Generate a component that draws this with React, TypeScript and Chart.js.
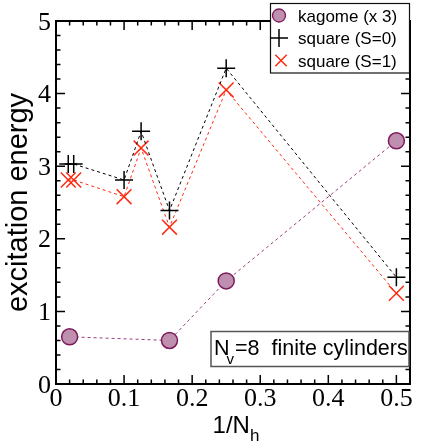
import React, { useEffect, useRef } from "react";
import { Chart, registerables } from "chart.js";

Chart.register(...registerables);

// ---- data ----
const kagomeX = [0.02, 0.1667, 0.25, 0.5];
const kagomeY = [0.65, 0.6, 1.42, 3.35];
const squareX = [0.018, 0.026, 0.1, 0.125, 0.1667, 0.25, 0.5];
const squareS0 = [3.03, 3.03, 2.81, 3.48, 2.39, 4.35, 1.47];
const squareS1 = [2.81, 2.81, 2.58, 3.25, 2.16, 4.05, 1.25];
const xTicks = [0, 0.1, 0.2, 0.3, 0.4, 0.5];
const yTicks = [0, 1, 2, 3, 4, 5];
const legendLabels = ["kagome (x 3)", "square (S=0)", "square (S=1)"];
const yTitle = "excitation energy";
const xTitleMain = "1/N";
const xTitleSub = "h";
const noteMain = "N";
const noteSub = "v";
const noteRest = "=8  finite cylinders";

const X_MIN = 0;
const X_MAX = 0.52;
const Y_MIN = 0;
const Y_MAX = 5;
const X_MINOR = 0.02;
const Y_MINOR = 0.2;

const KAGOME_LINE = "#9a3c80";
const KAGOME_FILL = "#bf8fb0";
const KAGOME_EDGE = "#7d1a5c";
const RED = "#ff2a10";
const SANS = '"Liberation Sans", Arial, Helvetica, sans-serif';
const SERIF = '"Liberation Serif", "Times New Roman", serif';

// warm up the serif font as early as possible
try {
  const c = document.createElement("canvas");
  const cx = c.getContext("2d");
  if (cx) {
    cx.font = `26px ${SERIF}`;
    cx.fillText("0.12345", 0, 20);
    cx.font = `26px ${SANS}`;
    cx.fillText("0.12345", 0, 20);
  }
} catch (e) {}

const toPts = (xs: number[], ys: number[]) => xs.map((x, i) => ({ x, y: ys[i] }));

const decorPlugin = {
  id: "decor",
  afterDraw(chart: any) {
    const { ctx, chartArea } = chart;
    const xs = chart.scales.x;
    const ys = chart.scales.y;
    const { left, right, top, bottom } = chartArea;
    ctx.save();

    // inward ticks on all four sides
    ctx.strokeStyle = "#000";
    ctx.lineWidth = 1.5;
    const majorLen = 9;
    const minorLen = 4.5;
    const isMajor = (v: number, arr: number[]) => arr.some((t) => Math.abs(t - v) < 1e-6);
    ctx.beginPath();
    for (let v = X_MIN; v <= X_MAX + 1e-9; v += X_MINOR) {
      const vv = Math.round(v * 1000) / 1000;
      const px = xs.getPixelForValue(vv);
      const len = isMajor(vv, xTicks) ? majorLen : minorLen;
      ctx.moveTo(px, bottom);
      ctx.lineTo(px, bottom - len);
      ctx.moveTo(px, top);
      ctx.lineTo(px, top + len);
    }
    for (let v = Y_MIN; v <= Y_MAX + 1e-9; v += Y_MINOR) {
      const vv = Math.round(v * 1000) / 1000;
      const py = ys.getPixelForValue(vv);
      const len = isMajor(vv, yTicks) ? majorLen : minorLen;
      ctx.moveTo(left, py);
      ctx.lineTo(left + len, py);
      ctx.moveTo(right, py);
      ctx.lineTo(right - len, py);
    }
    ctx.stroke();

    // frame
    ctx.lineWidth = 2;
    ctx.strokeRect(left, top, right - left, bottom - top);

    // tick labels (serif), placed through the scales
    ctx.fillStyle = "#000";
    ctx.font = `26px ${SERIF}`;
    ctx.textBaseline = "alphabetic";
    ctx.textAlign = "right";
    yTicks.forEach((v) => {
      ctx.fillText(String(v), left - 5, ys.getPixelForValue(v) + 8.6);
    });
    ctx.textAlign = "center";
    xTicks.forEach((v) => {
      ctx.fillText(String(v), xs.getPixelForValue(v), bottom + 22);
    });

    // y title
    ctx.save();
    ctx.translate(27, (top + bottom) / 2);
    ctx.rotate(-Math.PI / 2);
    ctx.font = `29px ${SANS}`;
    ctx.textAlign = "center";
    ctx.textBaseline = "alphabetic";
    ctx.fillText(yTitle, 0, 0);
    ctx.restore();

    // x title with subscript
    ctx.textAlign = "left";
    ctx.textBaseline = "alphabetic";
    ctx.font = `24px ${SANS}`;
    const wMain = ctx.measureText(xTitleMain).width;
    ctx.font = `17px ${SANS}`;
    const wSub = ctx.measureText(xTitleSub).width;
    const xStart = 236 - (wMain + wSub) / 2;
    ctx.font = `24px ${SANS}`;
    ctx.fillText(xTitleMain, xStart, 433);
    ctx.font = `17px ${SANS}`;
    ctx.fillText(xTitleSub, xStart + wMain, 441);

    // annotation box
    ctx.fillStyle = "#fff";
    ctx.fillRect(211, 331.5, 198, 35);
    ctx.strokeStyle = "#555";
    ctx.lineWidth = 1.5;
    ctx.strokeRect(211, 331.5, 198, 35);
    ctx.fillStyle = "#000";
    ctx.font = `21.5px ${SANS}`;
    let tx = 214;
    ctx.fillText(noteMain, tx, 355);
    tx += ctx.measureText(noteMain).width - 3;
    ctx.font = `15px ${SANS}`;
    ctx.fillText(noteSub, tx, 364);
    tx += ctx.measureText(noteSub).width + 1;
    ctx.font = `21.5px ${SANS}`;
    ctx.fillText(noteRest, tx, 355);

    // legend
    ctx.fillStyle = "#fff";
    ctx.fillRect(270.5, 3.5, 139, 69.5);
    ctx.strokeStyle = "#111";
    ctx.lineWidth = 1.2;
    ctx.strokeRect(270.5, 3.5, 139, 69.5);
    const rowsY = [15.5, 38, 60.5];
    const mx = 279;
    ctx.beginPath();
    ctx.arc(mx, rowsY[0], 6.5, 0, Math.PI * 2);
    ctx.fillStyle = KAGOME_FILL;
    ctx.fill();
    ctx.strokeStyle = KAGOME_EDGE;
    ctx.lineWidth = 1.3;
    ctx.stroke();
    ctx.strokeStyle = "#000";
    ctx.lineWidth = 1.5;
    ctx.beginPath();
    ctx.moveTo(mx - 9, rowsY[1]);
    ctx.lineTo(mx + 9, rowsY[1]);
    ctx.moveTo(mx, rowsY[1] - 9);
    ctx.lineTo(mx, rowsY[1] + 9);
    ctx.stroke();
    ctx.strokeStyle = RED;
    ctx.beginPath();
    const d = 5.7;
    ctx.moveTo(mx - d + 2, rowsY[2] - d);
    ctx.lineTo(mx + d + 2, rowsY[2] + d);
    ctx.moveTo(mx - d + 2, rowsY[2] + d);
    ctx.lineTo(mx + d + 2, rowsY[2] - d);
    ctx.stroke();
    ctx.fillStyle = "#000";
    ctx.font = `17px ${SANS}`;
    ctx.textBaseline = "alphabetic";
    legendLabels.forEach((lab, i) => {
      ctx.fillText(lab, 298, rowsY[i] + 6.2);
    });

    ctx.restore();
  },
};

export default function App() {
  const ref = useRef<HTMLCanvasElement | null>(null);
  useEffect(() => {
    if (!ref.current) return;
    const chart = new Chart(ref.current, {
      type: "scatter",
      data: {
        datasets: [
          {
            label: legendLabels[0],
            data: toPts(kagomeX, kagomeY),
            showLine: true,
            borderColor: KAGOME_LINE,
            borderWidth: 1,
            borderDash: [3, 3],
            pointStyle: "circle",
            pointRadius: 8,
            pointHoverRadius: 8,
            pointBackgroundColor: KAGOME_FILL,
            pointBorderColor: KAGOME_EDGE,
            pointBorderWidth: 1.5,
          },
          {
            label: legendLabels[1],
            data: toPts(squareX, squareS0),
            showLine: true,
            borderColor: "#000",
            borderWidth: 1,
            borderDash: [3, 3],
            pointStyle: "cross",
            pointRadius: 9,
            pointHoverRadius: 9,
            pointBorderColor: "#000",
            pointBorderWidth: 1.5,
          },
          {
            label: legendLabels[2],
            data: toPts(squareX, squareS1),
            showLine: true,
            borderColor: RED,
            borderWidth: 1,
            borderDash: [3, 3],
            pointStyle: "crossRot",
            pointRadius: 10.5,
            pointHoverRadius: 10.5,
            pointBorderColor: RED,
            pointBorderWidth: 1.5,
          },
        ],
      },
      options: {
        animation: false,
        responsive: false,
        devicePixelRatio: 1,
        layout: { padding: { top: 21, right: 4, bottom: 0, left: 0 } },
        plugins: {
          legend: { display: false },
          tooltip: { enabled: false },
          title: { display: false },
        },
        scales: {
          x: {
            type: "linear",
            min: X_MIN,
            max: X_MAX,
            afterBuildTicks: (s: any) => {
              s.ticks = xTicks.map((v) => ({ value: v }));
            },
            afterFit: (s: any) => {
              s.height = 63;
              s.paddingLeft = 0;
              s.paddingRight = 0;
            },
            ticks: { display: false },
            grid: { display: false, drawTicks: false },
            border: { display: false },
          },
          y: {
            type: "linear",
            min: Y_MIN,
            max: Y_MAX,
            afterBuildTicks: (s: any) => {
              s.ticks = yTicks.map((v) => ({ value: v }));
            },
            afterFit: (s: any) => {
              s.width = 56;
              s.paddingTop = 0;
              s.paddingBottom = 0;
            },
            ticks: { display: false },
            grid: { display: false, drawTicks: false },
            border: { display: false },
          },
        },
      },
      plugins: [decorPlugin],
    });
    let alive = true;
    const redraw = () => {
      if (alive) chart.draw();
    };
    try {
      (document as any).fonts
        .load(`26px "Liberation Serif"`)
        .then(redraw)
        .catch(() => {});
      (document as any).fonts.ready.then(redraw);
    } catch (e) {}
    const t1 = setTimeout(redraw, 60);
    const t2 = setTimeout(redraw, 250);
    return () => {
      alive = false;
      clearTimeout(t1);
      clearTimeout(t2);
      chart.destroy();
    };
  }, []);
  return (
    <div style={{ position: "fixed", left: 0, top: 0, width: 422, height: 447, background: "#fff" }}>
      <canvas ref={ref} width={422} height={447} style={{ width: 422, height: 447, display: "block" }} />
    </div>
  );
}
